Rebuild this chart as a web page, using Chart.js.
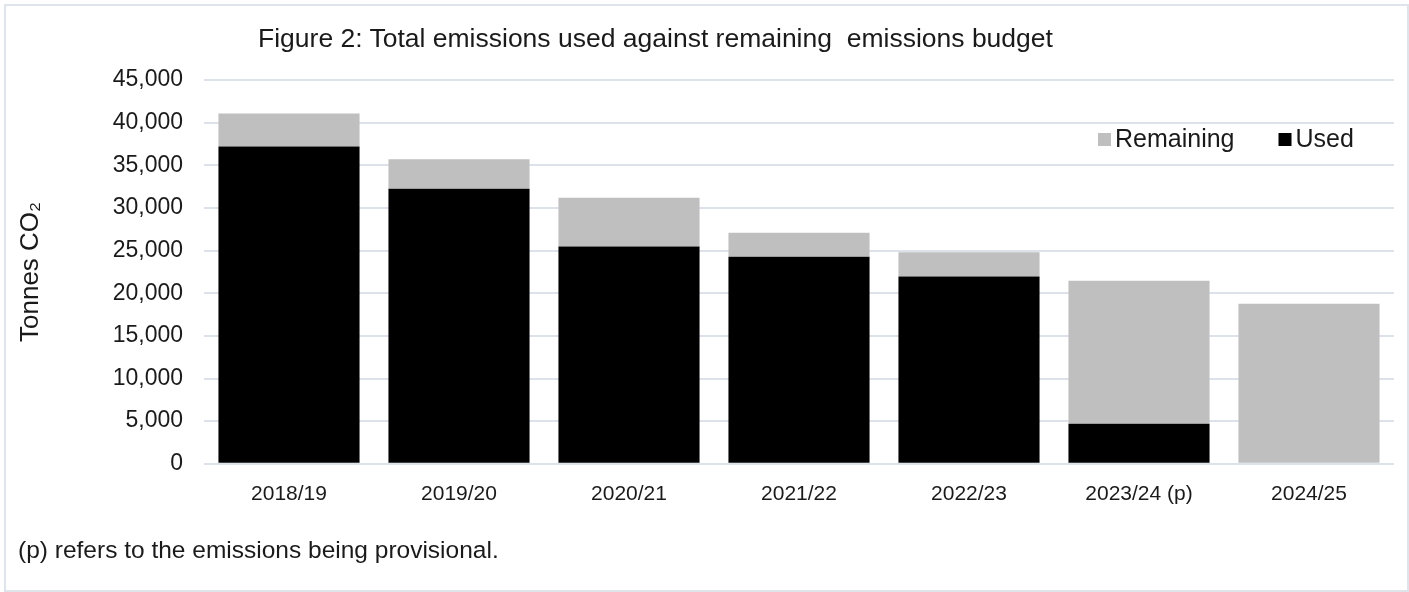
<!DOCTYPE html>
<html>
<head>
<meta charset="utf-8">
<script src="https://cdn.jsdelivr.net/npm/chart.js@4.4.1/dist/chart.umd.min.js"></script>
<style>
  body { margin: 0; background: #fff; font-family: "Liberation Sans", Arial, sans-serif; }
  #frame { position: absolute; left: 4px; top: 4px; width: 1401px; height: 584px; border: 2px solid #dfe3ea; }
  #chartTitle { position: absolute; left: 252px; top: 17px; font-size: 26.5px; line-height: 30px; color: #1a1a1a; white-space: nowrap; }
  #footnote { position: absolute; left: 12px; top: 530px; font-size: 24.5px; line-height: 28px; color: #1a1a1a; white-space: nowrap; }
  #emissionsChart { position: absolute; left: 0; top: 0; }
</style>
</head>
<body>
<div id="frame">
  <canvas id="emissionsChart" width="1401" height="584"></canvas>
  <div id="chartTitle">Figure 2: Total emissions used against remaining&nbsp; emissions budget</div>
  <div id="footnote">(p) refers to the emissions being provisional.</div>
</div>
<script>
// Values (tonnes CO2)
const years = ["2018/19", "2019/20", "2020/21", "2021/22", "2022/23", "2023/24 (p)", "2024/25"];
const usedEmissions = [37200, 32250, 25470, 24290, 21970, 4690, 0];
const remainingBudget = [3880, 3460, 5710, 2800, 2830, 16770, 18780];
const yTicks = [0, 5000, 10000, 15000, 20000, 25000, 30000, 35000, 40000, 45000];

const textColor = "#1a1a1a";
const gridColor = "rgb(221, 225, 233)";

// Legend sits inside the plot, top right, Remaining first
const insideLegend = {
  id: "insideLegend",
  afterDraw(chart) {
    const ctx = chart.ctx;
    const area = chart.chartArea;
    const items = [chart.data.datasets[1], chart.data.datasets[0]];
    let x = area.right - 296;
    const y = area.top + 59;
    ctx.save();
    ctx.font = '25px "Liberation Sans", Arial, sans-serif';
    ctx.textBaseline = "middle";
    items.forEach(ds => {
      ctx.fillStyle = ds.backgroundColor;
      ctx.fillRect(x, y - 6, 13, 13);
      x += 17;
      ctx.fillStyle = textColor;
      ctx.fillText(ds.label, x, y + 1);
      x += ctx.measureText(ds.label).width + 44;
    });
    ctx.restore();
  }
};

const ctx = document.getElementById("emissionsChart").getContext("2d");
new Chart(ctx, {
  type: "bar",
  data: {
    labels: years,
    datasets: [
      {
        label: "Used",
        data: usedEmissions,
        backgroundColor: "#000000",
        borderWidth: 0,
        barPercentage: 0.83,
        categoryPercentage: 1
      },
      {
        label: "Remaining",
        data: remainingBudget,
        backgroundColor: "#bfbfbf",
        borderWidth: 0,
        barPercentage: 0.83,
        categoryPercentage: 1
      }
    ]
  },
  options: {
    responsive: false,
    animation: false,
    layout: { padding: { top: 74, right: 13, bottom: 73, left: 0 } },
    plugins: {
      legend: { display: false },
      title: { display: false },
      tooltip: { enabled: false }
    },
    scales: {
      x: {
        stacked: true,
        grid: { display: false },
        border: { display: false },
        ticks: {
          color: textColor,
          padding: 10,
          font: { family: "Liberation Sans", size: 21 }
        }
      },
      y: {
        stacked: true,
        min: 0,
        max: 45000,
        afterFit: axis => { axis.width = 198; },
        afterBuildTicks: axis => { axis.ticks = yTicks.map(v => ({ value: v })); },
        grid: { color: gridColor, lineWidth: 2, drawTicks: false },
        border: { display: false },
        ticks: {
          color: textColor,
          padding: 21,
          font: { family: "Liberation Sans", size: 23 },
          callback: v => v.toLocaleString("en-GB")
        },
        title: {
          display: true,
          text: "Tonnes CO₂",
          color: textColor,
          padding: { top: 9, bottom: 0 },
          font: { family: "Liberation Sans", size: 26 }
        }
      }
    }
  },
  plugins: [insideLegend]
});
</script>
</body>
</html>
